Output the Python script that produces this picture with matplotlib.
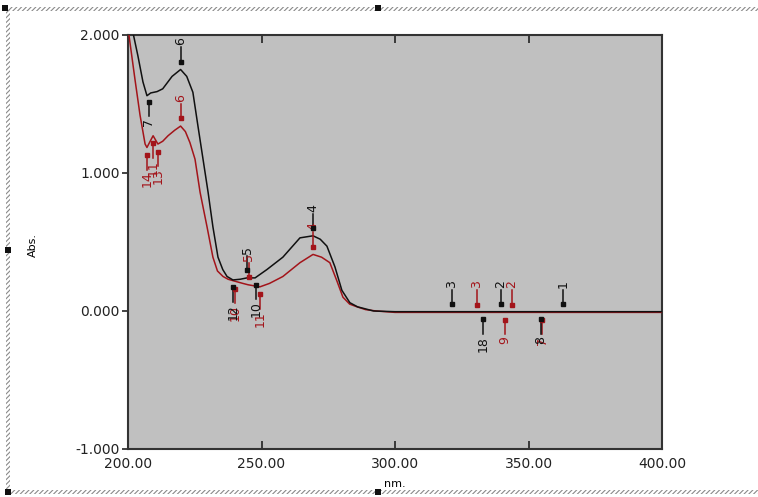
import numpy as np
import matplotlib
matplotlib.use("Agg")
import matplotlib.pyplot as plt
from matplotlib.patches import Rectangle

# spectrum 1 (black) and spectrum 2 (red)
wl_black = [200.5, 201.5, 203.7, 205.6, 207.1, 208.5, 210.9, 213.0, 216.5, 219.7,
            222.0, 224.3, 226.2, 228.1, 230.0, 231.8, 233.7, 235.5, 237.1, 239.3,
            242.0, 244.6, 247.6, 252.0, 258.0, 264.4, 269.3, 272.0, 274.5, 277.5,
            280.1, 283.1, 286.0, 288.0, 292.0, 300.0, 400.0]
abs_black = [2.3, 2.05, 1.85, 1.66, 1.56, 1.58, 1.59, 1.61, 1.70, 1.75,
             1.70, 1.585, 1.34, 1.10, 0.86, 0.61, 0.39, 0.30, 0.25, 0.225,
             0.23, 0.24, 0.24, 0.30, 0.39, 0.53, 0.545, 0.52, 0.47, 0.32,
             0.15, 0.06, 0.03, 0.02, 0.0, -0.005, -0.005]

wl_red = [200.0, 202.6, 204.5, 206.4, 207.1, 208.3, 209.4, 210.3, 211.2, 213.0,
          215.0, 217.5, 219.7, 221.5, 223.2, 225.1, 227.0, 229.6, 231.8, 233.5,
          235.6, 237.5, 239.3, 243.0, 245.0, 249.4, 253.0, 258.0, 264.4, 269.3,
          272.5, 275.6, 278.2, 280.5, 283.0, 285.8, 289.0, 293.0, 300.0, 400.0]
abs_red = [2.05, 1.68, 1.42, 1.21, 1.185, 1.23, 1.27, 1.24, 1.21, 1.23,
           1.27, 1.31, 1.34, 1.30, 1.22, 1.10, 0.86, 0.61, 0.39, 0.29,
           0.25, 0.23, 0.22, 0.20, 0.19, 0.175, 0.20, 0.25, 0.35, 0.41,
           0.39, 0.35, 0.22, 0.10, 0.05, 0.03, 0.01, 0.0, -0.01, -0.01]

# peak pick marks: wavelength, label, side (1 = arrow from above, -1 = from below)
pick_black_wl = [219.7, 207.8, 239.5, 244.6, 248.0, 269.3, 321.3, 333.0, 339.7, 354.5, 362.9]
pick_black_lbl = ["6", "7", "12", "5", "10", "4", "3", "18", "2", "8", "1"]
pick_black_side = [1, -1, -1, 1, -1, 1, 1, -1, 1, -1, 1]

pick_red_wl = [219.7, 207.1, 209.4, 211.2, 240.0, 245.2, 249.6, 269.3, 330.7, 341.2, 343.8, 355.2]
pick_red_lbl = ["6", "14", "11", "13", "10", "5", "11", "4", "3", "9", "2", "7"]
pick_red_side = [1, -1, -1, -1, -1, 1, -1, 1, 1, -1, 1, -1]

BLACK = "#101010"
RED = "#a3141a"

plt.rcParams["hatch.linewidth"] = 0.8

fig = plt.figure(figsize=(7.58, 4.97), dpi=100)
ax = fig.add_axes([128 / 758, 48 / 497, 534 / 758, 414 / 497])
ax.set_facecolor("#c0c0c0")

ax.plot(wl_red, abs_red, color=RED, lw=1.1, zorder=3)
ax.plot(wl_black, abs_black, color=BLACK, lw=1.1, zorder=4)


def draw_picks(wls, lbls, sides, curve_x, curve_y, color):
    for w, lbl, s in zip(wls, lbls, sides):
        y = np.interp(w, curve_x, curve_y)
        y_sq = y + s * 0.055
        y_end = y + s * 0.16
        ax.plot([w, w], [y_sq, y_end], color=color, lw=1.1, zorder=5)
        ax.plot(w, y_sq, marker="s", ms=3.5, color=color, zorder=6)
        ax.text(w, y + s * 0.175, lbl, color=color, fontsize=9, rotation=90,
                ha="center", va="bottom" if s > 0 else "top", zorder=6)


draw_picks(pick_red_wl, pick_red_lbl, pick_red_side, wl_red, abs_red, RED)
draw_picks(pick_black_wl, pick_black_lbl, pick_black_side, wl_black, abs_black, BLACK)

ax.set_xlim(200, 400)
ax.set_ylim(-1, 2)
ax.set_xticks([200, 250, 300, 350, 400])
ax.set_xticklabels(["200.00", "250.00", "300.00", "350.00", "400.00"])
ax.set_yticks([-1, 0, 1, 2])
ax.set_yticklabels(["-1.000", "0.000", "1.000", "2.000"])
ax.tick_params(axis="x", direction="in", top=True, length=6, width=1.2,
               labelsize=10, pad=6, colors="#222222")
ax.tick_params(axis="y", direction="out", length=4, width=1.2,
               labelsize=10, pad=2, colors="#222222")
for sp in ax.spines.values():
    sp.set_linewidth(1.5)
    sp.set_color("#333333")

fig.text(395 / 758, 1 - 484 / 497, "nm.", ha="center", va="center", fontsize=8)
fig.text(33 / 758, 1 - 245 / 497, "Abs.", ha="center", va="center", fontsize=8,
         rotation=90)

# hatched selection border round the frame
W, H = 758, 497
for (x0, y0, w, h) in [(5, H - 11, W - 5, 4), (5, 3, W - 5, 4), (6, 6, 4, H - 16)]:
    fig.add_artist(Rectangle((x0 / W, y0 / H), w / W, h / H, transform=fig.transFigure,
                             fill=False, hatch="///////", edgecolor="#8a8a8a", lw=0))
for (px, py) in [(5, 8), (378, 8), (8, 250), (8, 492), (378, 492)]:
    fig.add_artist(Rectangle(((px - 3) / W, (H - py - 3) / H), 6 / W, 6 / H,
                             transform=fig.transFigure, color="#111111", lw=0))

fig.savefig("out.png", dpi=100)
